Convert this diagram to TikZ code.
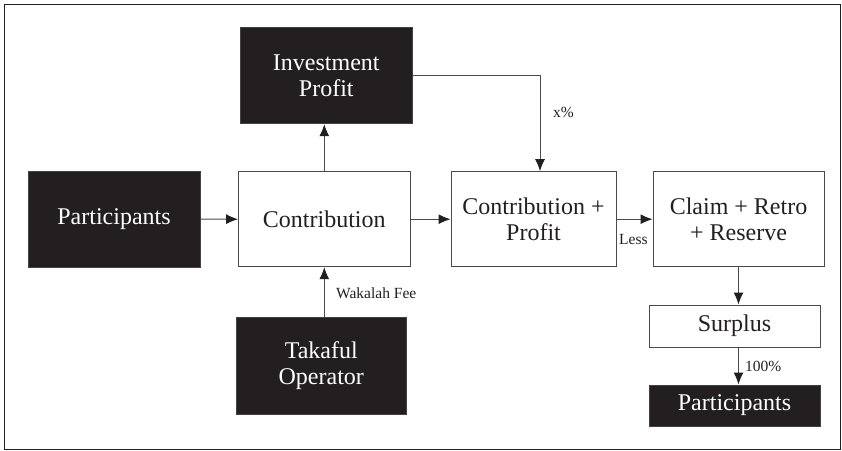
\documentclass[tikz,border=0pt]{standalone}
\usepackage{fontspec}
\setmainfont{Liberation Serif}
\usetikzlibrary{arrows.meta}
\definecolor{boxblack}{HTML}{231F20}
\definecolor{edgegrey}{HTML}{4A4A4A}
\tikzset{
  bigtext/.style={font=\fontsize{24}{26}\selectfont, align=center},
  darkbox/.style={bigtext, fill=boxblack, draw=boxblack!85, text=white, inner sep=0pt, line width=1pt},
  lightbox/.style={bigtext, fill=white, draw=edgegrey, text=boxblack, inner sep=0pt, line width=1pt},
  conn/.style={draw=edgegrey, line width=1pt, -{Latex[length=12pt,width=10pt,color=boxblack]}},
  lbl/.style={font=\fontsize{15.5}{17}\selectfont, text=boxblack, inner sep=0pt}
}
\begin{document}
\begin{tikzpicture}[x=1pt,y=-1pt]
\useasboundingbox (0,0) rectangle (842,450);
\draw[draw=boxblack, line width=1pt] (4.5,4.5) rectangle (840,449);

\node[darkbox, minimum width=171.4pt, minimum height=96pt] (IP) at (326.3,75.7) {Investment\\Profit};
\node[darkbox, minimum width=172pt, minimum height=96pt] (PL) at (114,219) {Participants};
\node[lightbox, minimum width=171.5pt, minimum height=95pt] (Con) at (324.3,219.2) {Contribution};
\node[lightbox, minimum width=165pt, minimum height=95pt] (CP) at (533.5,219.2) {Contribution +\\Profit};
\node[lightbox, minimum width=171pt, minimum height=95pt] (Cl) at (738.5,219.2) {Claim + Retro\\+ Reserve};
\node[darkbox, minimum width=170.5pt, minimum height=96.3pt] (Tak) at (321.3,365.9) {Takaful\\Operator};
\node[lightbox, minimum width=171pt, minimum height=42pt] (Sur) at (734.5,326) {Surplus};
\node[darkbox, minimum width=171pt, minimum height=41pt] (PB) at (734.5,405.5) {Participants};

\coordinate (ipc) at (540,75.7);
\draw[conn] (PL.east) -- (Con.west);
\draw[conn] (Con.east) -- (CP.west);
\draw[conn] (CP.east) -- (Cl.west);
\draw[conn] (Con.north) -- (Con.north |- IP.south);
\draw[conn] (Con.south |- Tak.north) -- (Con.south);
\draw[conn] (IP.east) -- (ipc) -- (ipc |- CP.north);
\draw[conn] (Cl.south) -- (Cl.south |- Sur.north);
\draw[conn] (Cl.south |- Sur.south) -- (Cl.south |- PB.north);

\node[lbl, anchor=west] (xp) at (553,112) {x\%};
\node[lbl, anchor=west] (wf) at (336,293) {Wakalah Fee};
\node[lbl, anchor=west] (ls) at (619,239) {Less};
\node[lbl, anchor=west] (hp) at (745,366) {100\%};
\end{tikzpicture}
\end{document}
